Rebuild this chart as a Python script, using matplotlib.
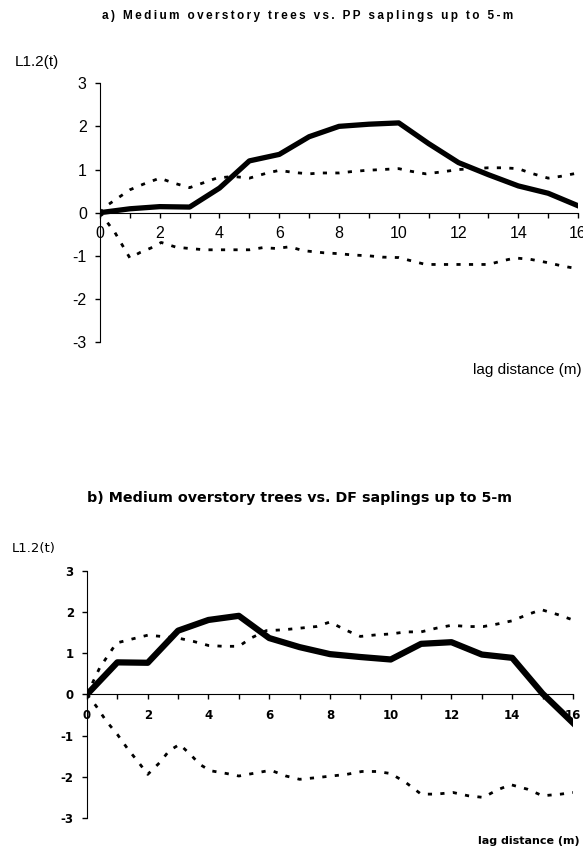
import matplotlib
matplotlib.use("Agg")
import matplotlib.pyplot as plt
from matplotlib.ticker import MultipleLocator

plt.rcParams['axes.unicode_minus'] = False

# panel a: medium overstory trees vs. PP saplings
lag_a = [0, 1, 2, 3, 4, 5, 6, 7, 8, 9, 10, 11, 12, 13, 14, 15, 16]
obs_a = [0.0, 0.09, 0.14, 0.13, 0.57, 1.2, 1.35, 1.76, 2.0, 2.05, 2.08, 1.6, 1.16, 0.88, 0.62, 0.45, 0.16]

env_lag_a = [0, 0.22, 1, 1.45, 2, 2.45, 3, 3.45, 3.9, 4.45, 5, 5.6, 6, 6.5, 7, 7.4, 8, 8.4, 8.9, 9.45,
             10, 10.4, 10.9, 11.5, 12, 12.5, 13, 13.5, 14, 14.4, 15, 15.4, 16]
upper_a = [0.0, 0.16, 0.53, 0.66, 0.8, 0.69, 0.58, 0.69, 0.8, 0.84, 0.8, 0.92, 0.98, 0.93, 0.9, 0.92, 0.92, 0.95, 0.98, 1.0,
           1.02, 0.96, 0.9, 0.95, 1.0, 1.02, 1.04, 1.04, 1.02, 0.92, 0.8, 0.84, 0.92]
low_lag_a = [0, 0.5, 1, 1.35, 1.7, 2.05, 2.55, 3, 3.5, 4, 4.5, 5, 5.45, 5.9, 6.35, 6.8, 7.5, 8, 8.45, 9, 9.45,
             10, 10.5, 10.9, 11.5, 12, 12.5, 13, 13.5, 13.9, 14.4, 15, 15.5, 16]
lower_a = [0.0, -0.46, -1.05, -0.92, -0.82, -0.69, -0.8, -0.83, -0.86, -0.86, -0.86, -0.86, -0.81, -0.83, -0.79, -0.88, -0.93, -0.95, -0.98, -1.0, -1.03,
           -1.04, -1.13, -1.2, -1.2, -1.2, -1.2, -1.2, -1.11, -1.05, -1.08, -1.16, -1.24, -1.3]

# panel b: medium overstory trees vs. DF saplings
lag_b = [0, 1, 2, 3, 4, 5, 6, 7, 8, 9, 10, 11, 12, 13, 14, 15, 16]
obs_b = [0.0, 0.78, 0.77, 1.55, 1.81, 1.91, 1.37, 1.15, 0.98, 0.91, 0.85, 1.23, 1.27, 0.97, 0.89, 0.02, -0.69]

env_lag_b = [0, 0.42, 0.97, 1.5, 2, 2.45, 3, 3.5, 4, 4.5, 5, 5.4, 5.9, 6.45, 7, 7.55, 8, 8.5, 9, 9.55,
             10, 10.5, 11, 11.5, 12, 12.55, 13.05, 13.5, 14, 14.5, 14.96, 15.5, 16]
upper_b = [0.0, 0.65, 1.25, 1.35, 1.44, 1.41, 1.37, 1.29, 1.19, 1.17, 1.17, 1.37, 1.55, 1.57, 1.61, 1.65, 1.76, 1.57, 1.41, 1.45,
           1.47, 1.52, 1.52, 1.61, 1.68, 1.65, 1.65, 1.71, 1.79, 1.94, 2.06, 1.94, 1.81]
low_lag_b = [0, 0.3, 0.64, 1.0, 1.35, 1.7, 2, 2.4, 2.7, 3.05, 3.45, 3.7, 4.05, 4.6, 5, 5.6, 6.05, 6.55, 7, 7.55,
             8.05, 8.55, 9.05, 9.55, 10, 10.5, 11, 11.5, 12.05, 12.55, 13.05, 13.5, 13.95, 14.5, 15, 15.6, 16]
lower_b = [0.0, -0.28, -0.65, -0.97, -1.33, -1.65, -1.94, -1.65, -1.37, -1.21, -1.49, -1.69, -1.85, -1.92, -1.98, -1.9, -1.84, -1.98, -2.06, -2.02,
           -1.98, -1.94, -1.87, -1.87, -1.92, -2.14, -2.42, -2.42, -2.38, -2.46, -2.5, -2.32, -2.19, -2.3, -2.46, -2.42, -2.38]

fig = plt.figure(figsize=(5.83, 8.49), dpi=100)

env_style = dict(color='black', lw=2, ls=(0, (1.5, 3)))


def setup(ax, font, size, weight, xpad, ypad):
    ax.set_xlim(0, 16)
    ax.set_ylim(-3, 3)
    ax.spines['top'].set_visible(False)
    ax.spines['right'].set_visible(False)
    ax.spines['bottom'].set_position(('data', 0))
    ax.xaxis.set_major_locator(MultipleLocator(2))
    ax.xaxis.set_minor_locator(MultipleLocator(1))
    ax.set_yticks([-3, -2, -1, 0, 1, 2, 3])
    ax.tick_params(axis='x', which='both', direction='out', length=3.5, width=1)
    ax.tick_params(axis='x', which='major', pad=xpad)
    ax.tick_params(axis='y', direction='out', length=3.5, width=1, pad=ypad)
    for lab in ax.get_xticklabels() + ax.get_yticklabels():
        lab.set_fontfamily(font)
        lab.set_fontsize(size)
        lab.set_fontweight(weight)


def spaced(s):
    return '\u2009'.join(s)


# panel a
ax1 = fig.add_axes([0.1715, 0.597, 0.820, 0.305])
ax1.plot(env_lag_a, upper_a, **env_style)
ax1.plot(low_lag_a, lower_a, **env_style)
ax1.plot(lag_a, obs_a, color='black', lw=3.8)
setup(ax1, 'Liberation Sans', 11.5, 'normal', 6, 6)
fig.text(0.527, 0.981, spaced('a) Medium overstory trees vs. PP saplings up to 5-m'),
         ha='center', va='center', fontsize=8.5, fontweight='bold',
         family=['Liberation Sans', 'DejaVu Sans'])
fig.text(0.025, 0.927, 'L1.2(t)', ha='left', va='center', fontsize=11,
         family='Liberation Sans')
fig.text(0.997, 0.564, 'lag distance (m)', ha='right', va='center',
         fontsize=11, family='Liberation Sans')

# panel b
ax2 = fig.add_axes([0.1492, 0.0365, 0.8336, 0.291])
ax2.plot(env_lag_b, upper_b, **env_style)
ax2.plot(low_lag_b, lower_b, **env_style)
ax2.plot(lag_b, obs_b, color='black', lw=4.5)
setup(ax2, 'DejaVu Sans', 8.5, 'bold', 7, 6)
fig.text(0.513, 0.4134, 'b) Medium overstory trees vs. DF saplings up to 5-m',
         ha='center', va='center', fontsize=10.3, fontweight='bold',
         family='DejaVu Sans')
fig.text(0.02, 0.3545, 'L1.2(t)', ha='left', va='center', fontsize=9.5,
         family='DejaVu Sans')
fig.text(0.995, 0.0094, 'lag distance (m)', ha='right', va='center',
         fontsize=8, fontweight='bold', family='DejaVu Sans')

fig.savefig('out.png', dpi=100)
